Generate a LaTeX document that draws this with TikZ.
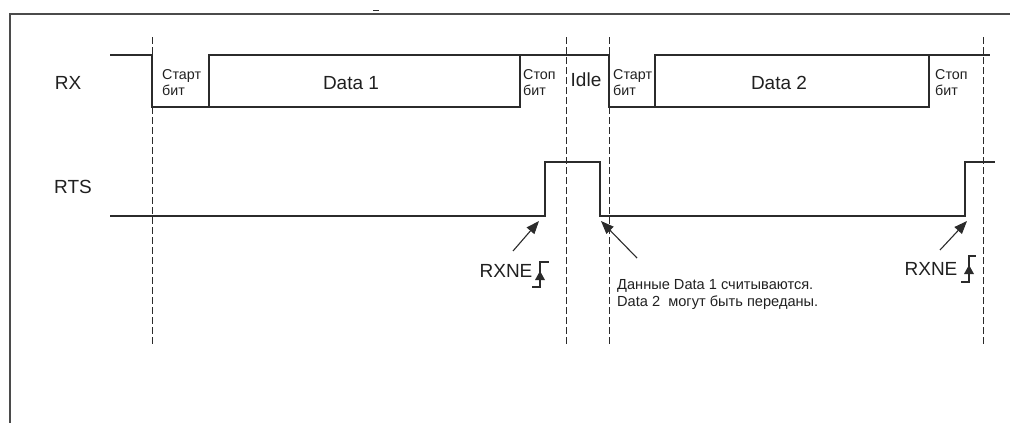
\documentclass[tikz,border=0pt]{standalone}
\usepackage{fontspec}
\setmainfont{Liberation Sans}
\usetikzlibrary{arrows.meta}
\definecolor{ink}{HTML}{2B2B2B}
\definecolor{txt}{HTML}{202020}
\begin{document}
\begin{tikzpicture}[x=1pt,y=-1pt,
  wave/.style={draw=ink,line width=1.3pt,line join=miter},
  frameline/.style={draw=ink!85,line width=1.4pt},
  guide/.style={draw=ink,line width=0.9pt,dash pattern=on 7pt off 3pt},
  biglbl/.style={text=txt,font=\fontsize{19}{22}\selectfont,inner sep=0pt},
  smalllbl/.style={text=txt,font=\fontsize{14.3}{16}\selectfont,inner sep=0pt,align=left,anchor=west},
  notelbl/.style={text=txt,font=\fontsize{14.6}{16}\selectfont,inner sep=0pt,anchor=west},
  pointer/.style={draw=ink,line width=1.1pt,-{Triangle[length=13pt,width=10pt]}},
  edgesym/.style={draw=ink,line width=1.1pt},
  edgehead/.style={fill=ink,draw=none}]
\useasboundingbox (0,0) rectangle (1010,423);
% frame
\draw[frameline] (10,423) -- (10,14) -- (1010,14);
\draw[draw=ink,line width=1.4pt] (373,10.5) -- (379,10.5);
% guide lines
\foreach \gx in {152,566,609,983} {\draw[guide] (\gx,37) -- (\gx,344);}
% RX waveform
\draw[wave] (110,55) -- (152,55) -- (152,107) -- (520,107) -- (520,55);
\draw[wave] (209,107) -- (209,55) -- (609,55) -- (609,107) -- (929,107) -- (929,55);
\draw[wave] (655,107) -- (655,55) -- (990,55);
% RTS waveform
\draw[wave] (110,216) -- (545,216) -- (545,162) -- (600,162) -- (600,216) -- (965,216) -- (965,162) -- (995,162);
% labels
\node[biglbl] (rx) at (68,83) {RX};
\node[biglbl] (rts) at (73,187) {RTS};
\node[biglbl] (d1) at (351,83) {Data 1};
\node[biglbl] (d2) at (779,83) {Data 2};
\node[biglbl] (idle) at (586,80) {Idle};
\node[smalllbl] (st1) at (162,83) {Старт\\бит};
\node[smalllbl] (sp1) at (523,83) {Стоп\\бит};
\node[smalllbl] (st2) at (613,83) {Старт\\бит};
\node[smalllbl] (sp2) at (935,83) {Стоп\\бит};
\node[biglbl] (rxne1) at (506,271) {RXNE};
\node[biglbl] (rxne2) at (931,269) {RXNE};
\node[notelbl] (note1) at (617,286) {Данные Data 1 считываются.};
\node[notelbl] (note2) at (617,303) {Data 2\ \ могут быть переданы.};
% pointers
\coordinate (p1s) at (513,251); \coordinate (p1e) at (539,221);
\coordinate (p2s) at (637,258); \coordinate (p2e) at (601,221);
\coordinate (p3s) at (940,250); \coordinate (p3e) at (967,221);
\draw[pointer] (p1s) -- (p1e);
\draw[pointer] (p2s) -- (p2e);
\draw[pointer] (p3s) -- (p3e);
% rising edge symbols
\draw[edgesym] (532,287) -- (540,287) -- (540,262) -- (549,262);
\fill[edgehead] (540,271) -- (535,280) -- (545,280) -- cycle;
\draw[edgesym] (961,282) -- (969,282) -- (969,256) -- (976,256);
\fill[edgehead] (969,265) -- (964,274) -- (974,274) -- cycle;
\end{tikzpicture}
\end{document}
